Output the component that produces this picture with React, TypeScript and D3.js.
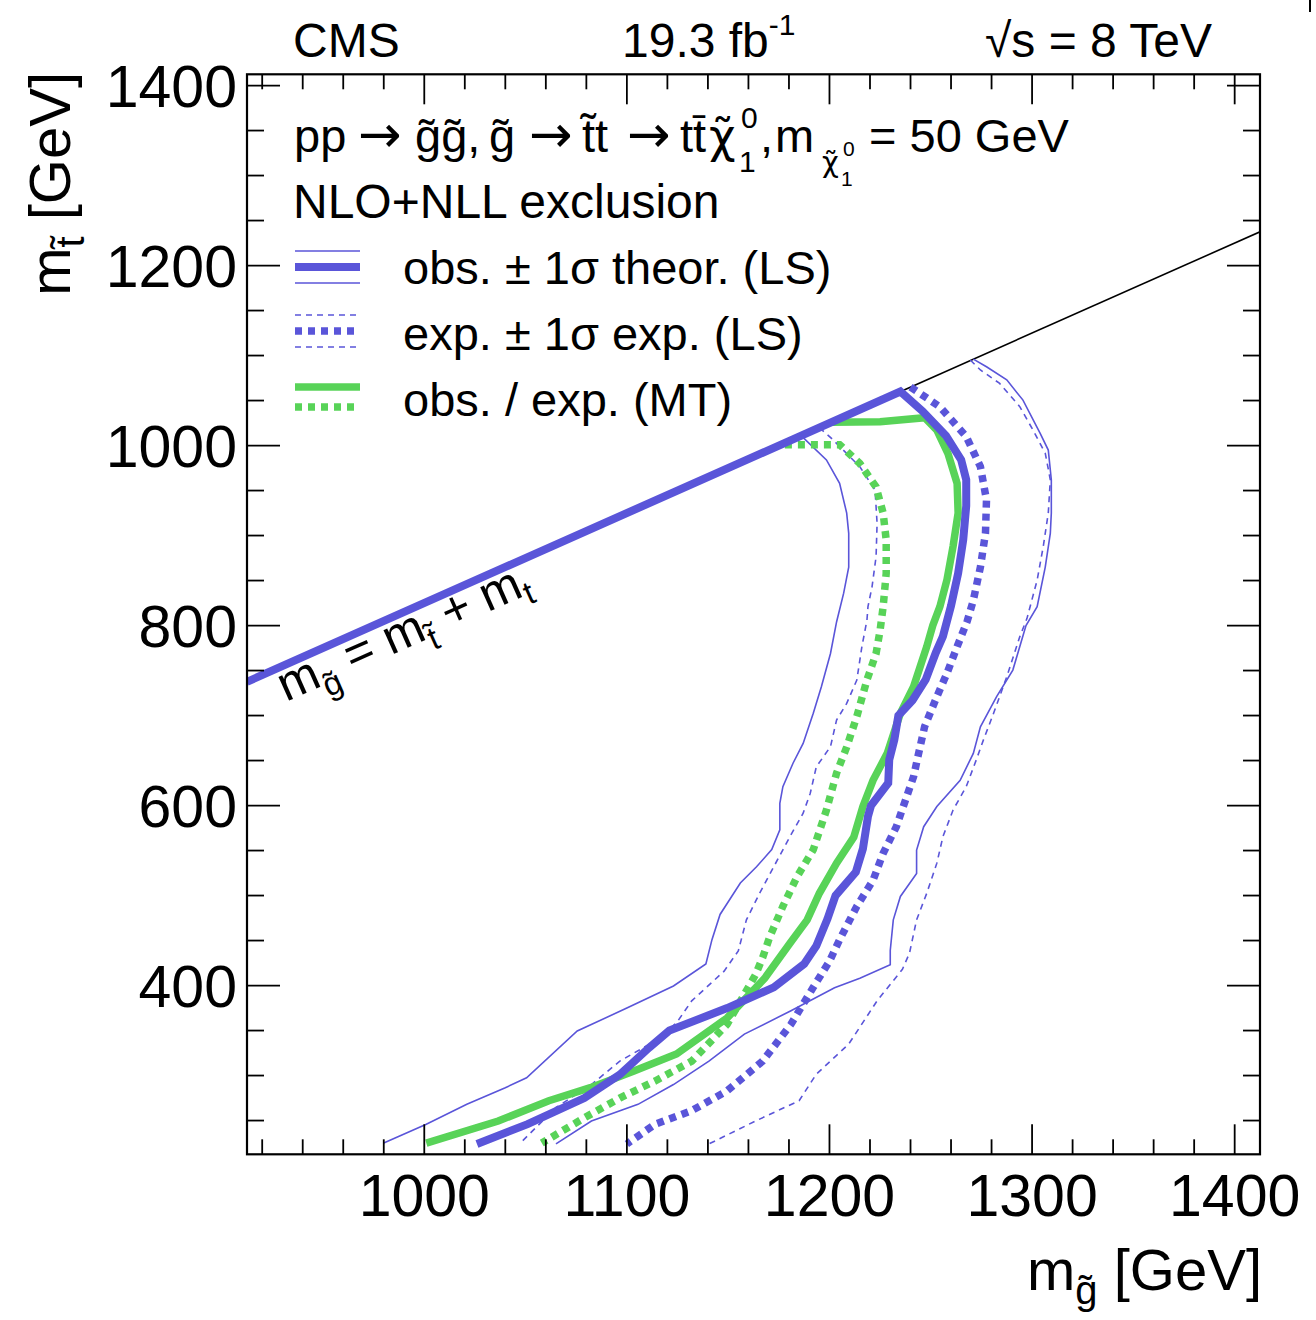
import React from "react";
import * as d3 from "d3";

type P = [number, number];

// ---------- axes ----------
const xDomain: [number, number] = [912.5, 1412.5];
const yDomain: [number, number] = [212.5, 1412.5];
const xMajorTicks = [1000, 1100, 1200, 1300, 1400];
const yMajorTicks = [400, 600, 800, 1000, 1200, 1400];
const xMinorTicks = d3.range(920, 1412, 20);
const yMinorTicks = d3.range(250, 1412, 50);
const topMass = 175;
const kinematicLineStart = 1236;

// ---------- contours (m_gluino, m_stop) ----------
const obsLS: P[] = [
  [912.5, 737.5], [1235, 1060], [1246, 1038], [1257.5, 1011], [1265, 984], [1267.5, 962],
  [1267.5, 933], [1266, 895], [1263.5, 858], [1260, 822], [1256, 788], [1252.5, 770],
  [1247.5, 740], [1241, 717], [1234, 700], [1232, 673], [1229.5, 651], [1229, 625],
  [1220.5, 600], [1219, 588], [1216.5, 552], [1213, 526], [1203, 500], [1199, 474],
  [1193.5, 444], [1187.5, 424], [1172.5, 398], [1149.5, 375], [1121, 350], [1111, 331],
  [1096.5, 301], [1079, 275], [1051, 246], [1026, 224],
];
const obsLSDown: P[] = [
  [1186, 1011], [1198.5, 984], [1205, 958], [1208.5, 925], [1209.5, 902.5], [1209.5, 865],
  [1207, 836], [1203.5, 804], [1200.5, 769], [1196, 732], [1192, 702.5], [1187, 669],
  [1182, 647], [1177, 621], [1175.5, 602.5], [1175.5, 573], [1171.5, 551], [1164, 532],
  [1156, 514], [1146, 479], [1142, 451], [1139, 424], [1123, 399.5], [1100, 375],
  [1075.5, 349.5], [1050.5, 297.5], [1040, 286.5], [1021, 268], [1001, 246], [980, 225],
];
const obsLSUp: P[] = [
  [1271, 1096], [1277.5, 1087.5], [1287.5, 1073], [1295.5, 1050.5], [1304, 1013.5], [1308, 995],
  [1309.5, 962], [1309.5, 925], [1309, 902.5], [1306.5, 865], [1302.5, 821], [1297, 800],
  [1290.5, 750.5], [1282.5, 721], [1274.5, 687.5], [1271, 658], [1264.5, 628], [1253, 599],
  [1246.5, 576.5], [1243, 550.5], [1243, 524.5], [1235, 499], [1231.5, 473], [1230, 439],
  [1230, 423], [1215, 408], [1202.5, 397.5], [1181, 372], [1158, 346], [1140.5, 316],
  [1123, 290], [1105.5, 268], [1082.5, 249.5], [1065, 224],
];
const expLS: P[] = [
  [1240, 1065], [1254.5, 1043], [1267.5, 1010], [1274.5, 976.5], [1277.5, 939.5], [1277, 902.5],
  [1274.5, 865], [1271, 828], [1268, 805], [1263, 776.5], [1258, 747], [1253, 721],
  [1247, 688], [1244, 658], [1241.5, 632], [1237.5, 606], [1233, 576.5], [1226.5, 547],
  [1221.5, 517], [1213.5, 488], [1205, 451], [1200, 427], [1192, 398], [1181, 357],
  [1167, 316], [1149.5, 283], [1132, 261], [1114, 246], [1100, 224],
];
const expLSDown: P[] = [
  [1195, 1020], [1201, 1008], [1215, 976.5], [1222.5, 950.5], [1223.5, 913.5], [1223, 876.5],
  [1221, 843], [1219, 821], [1218.5, 806], [1216, 776.5], [1213.5, 739.5], [1208.5, 713.5],
  [1203.5, 695], [1200.5, 665.5], [1193.5, 643], [1190.5, 613.5], [1187, 591.5], [1180.5, 565.5],
  [1172.5, 532], [1165.5, 502.5], [1159, 473], [1155, 438.5], [1148, 416], [1132, 383],
  [1124.5, 358.5], [1114, 338.5], [1096.5, 316], [1082.5, 290], [1065, 264.5], [1047, 224],
];
const expLSUp: P[] = [
  [1269.5, 1095], [1274.5, 1084], [1284, 1069], [1294, 1043], [1300.5, 1017], [1306.5, 991.5],
  [1309, 962], [1308, 925], [1305.5, 887.5], [1302.5, 850.5], [1297.5, 808], [1294, 788],
  [1287.5, 743], [1281, 702.5], [1276, 673], [1272.5, 651], [1267.5, 621], [1261, 595],
  [1256, 565.5], [1253, 536], [1248, 502.5], [1243, 473], [1239.5, 436], [1236, 418],
  [1223.5, 383], [1209.5, 335], [1193.5, 301.5], [1185, 272], [1163.5, 249.5], [1140.5, 224],
];
const obsMT: P[] = [
  [1201, 1026], [1225, 1026.5], [1247, 1031], [1253, 1017], [1258.5, 991], [1263, 958],
  [1263.5, 925], [1261, 888], [1258, 851], [1254.5, 821], [1251, 800], [1248, 776.5],
  [1241.5, 732], [1235, 702.5], [1228.5, 658], [1221.5, 628], [1216.5, 599], [1212, 565],
  [1203.5, 536], [1195, 502.5], [1189, 473], [1180.5, 447], [1168, 408], [1149.5, 364],
  [1124.5, 324], [1103.5, 305], [1082, 286.5], [1061.5, 272], [1036.5, 249.5], [1001, 225],
];
const expMT: P[] = [
  [1178, 1001], [1205, 1001], [1215, 980], [1223, 954], [1226.5, 925], [1228, 895],
  [1228, 858], [1226.5, 821], [1225, 795], [1223, 769], [1218.5, 739.5], [1213.5, 699],
  [1208.5, 665], [1203.5, 636], [1198.5, 595], [1192, 551], [1184, 521], [1177, 488],
  [1170.5, 454], [1167, 431], [1163.5, 412], [1149.5, 357], [1132, 316], [1114, 294],
  [1096.5, 275], [1079, 253], [1058, 225],
];

const BLUE = "#5a55d9";
const GREEN = "#58d358";
const FONT = "'Liberation Sans', Arial, Helvetica, sans-serif";
const SYM = "'DejaVu Sans', sans-serif";

const L = 247, R = 1260, T = 74.3, B = 1154.3;

export default function App() {
  const x = d3.scaleLinear().domain(xDomain).range([L, R]);
  const y = d3.scaleLinear().domain(yDomain).range([B, T]);
  const line = d3.line<P>().x((d) => x(d[0])).y((d) => y(d[1]));
  const diag: P[] = [[kinematicLineStart, kinematicLineStart - topMass], [xDomain[1], xDomain[1] - topMass]];
  const ang = (Math.atan2(y(1300 - topMass) - y(1000 - topMass), x(1300) - x(1000)) * 180) / Math.PI;

  const lx0 = 295, lx1 = 360;
  const hy = 152;
  return (
    <svg width={1316} height={1320} style={{ position: "absolute", left: 0, top: 0, background: "#fff" }} fontFamily={FONT}>
      <rect x={0} y={0} width={1316} height={1320} fill="#fff" />
      <defs>
        <clipPath id="frame"><rect x={L} y={T} width={R - L} height={B - T} /></clipPath>
      </defs>
      <line x1={1310} x2={1310} y1={0} y2={12} stroke="#000" strokeWidth={2} />

      {/* top labels */}
      <text x={293} y={57} fontSize={48}>CMS</text>
      <text x={622} y={57} fontSize={48}>19.3 fb<tspan fontSize={30} dy={-22}>-1</tspan></text>
      <text x={985} y={57} fontSize={48}>√s = 8 TeV</text>

      {/* contours */}
      <g clipPath="url(#frame)" fill="none" strokeLinejoin="miter">
        <path d={line(diag)!} stroke="#000" strokeWidth={1.6} />
        <path d={line(obsLSDown)!} stroke={BLUE} strokeWidth={1.6} />
        <path d={line(obsLSUp)!} stroke={BLUE} strokeWidth={1.6} />
        <path d={line(expLSDown)!} stroke={BLUE} strokeWidth={1.6} strokeDasharray="6,5" />
        <path d={line(expLSUp)!} stroke={BLUE} strokeWidth={1.6} strokeDasharray="6,5" />
        <path d={line(expLS)!} stroke={BLUE} strokeWidth={7.5} strokeDasharray="7,6" />
        <path d={line(expMT)!} stroke={GREEN} strokeWidth={7.5} strokeDasharray="7,6" />
        <path d={line(obsMT)!} stroke={GREEN} strokeWidth={7.5} />
        <path d={line(obsLS)!} stroke={BLUE} strokeWidth={8} />
      </g>

      {/* diagonal label */}
      <g transform={`translate(286,702) rotate(${ang})`}>
        <text fontSize={49}>
          m<tspan fontSize={33} dy={13}>g&#x303;</tspan>
          <tspan fontSize={49} dy={-13}> = m</tspan>
          <tspan fontSize={33} dy={13}>t&#x303;</tspan>
          <tspan fontSize={49} dy={-13}> + m</tspan>
          <tspan fontSize={33} dy={10}>t</tspan>
        </text>
      </g>

      {/* header text */}
      <text fontSize={47}>
        <tspan x={294} y={hy}>pp</tspan>
        <tspan x={358} y={hy} fontFamily={SYM} fontSize={52}>→</tspan>
        <tspan x={415} y={hy}>g&#x303;g&#x303;,</tspan>
        <tspan x={489} y={hy}>g&#x303;</tspan>
        <tspan x={529} y={hy} fontFamily={SYM} fontSize={52}>→</tspan>
        <tspan x={582} y={hy}>t&#x303;t</tspan>
        <tspan x={627} y={hy} fontFamily={SYM} fontSize={52}>→</tspan>
        <tspan x={680} y={hy}>tt&#x304;</tspan>
        <tspan x={709} y={hy} fontFamily={SYM} fontSize={46}>χ&#x303;</tspan>
        <tspan x={741} y={hy - 24} fontSize={30}>0</tspan>
        <tspan x={739} y={hy + 20} fontSize={30}>1</tspan>
        <tspan x={760} y={hy}>,</tspan>
        <tspan x={775} y={hy}>m</tspan>
        <tspan x={822} y={hy + 20} fontFamily={SYM} fontSize={29}>χ&#x303;</tspan>
        <tspan x={843} y={hy + 4} fontSize={21}>0</tspan>
        <tspan x={841} y={hy + 34} fontSize={21}>1</tspan>
        <tspan x={869} y={hy}>= 50 GeV</tspan>
      </text>
      <text x={293} y={218} fontSize={48}>NLO+NLL exclusion</text>

      {/* legend */}
      <g>
        <line x1={lx0} x2={lx1} y1={251} y2={251} stroke={BLUE} strokeWidth={1.6} />
        <line x1={lx0} x2={lx1} y1={267} y2={267} stroke={BLUE} strokeWidth={8} />
        <line x1={lx0} x2={lx1} y1={283} y2={283} stroke={BLUE} strokeWidth={1.6} />
        <line x1={lx0} x2={lx1} y1={315} y2={315} stroke={BLUE} strokeWidth={1.6} strokeDasharray="6,5" />
        <line x1={lx0} x2={lx1} y1={331} y2={331} stroke={BLUE} strokeWidth={7.5} strokeDasharray="7,6" />
        <line x1={lx0} x2={lx1} y1={347} y2={347} stroke={BLUE} strokeWidth={1.6} strokeDasharray="6,5" />
        <line x1={lx0} x2={lx1} y1={387} y2={387} stroke={GREEN} strokeWidth={7.5} />
        <line x1={lx0} x2={lx1} y1={407} y2={407} stroke={GREEN} strokeWidth={7.5} strokeDasharray="7,6" />
        <text x={403} y={284} fontSize={47}>obs. ± 1σ theor. (LS)</text>
        <text x={403} y={350} fontSize={47}>exp. ± 1σ exp. (LS)</text>
        <text x={403} y={416} fontSize={47}>obs. / exp. (MT)</text>
      </g>

      {/* frame + ticks */}
      <rect x={L} y={T} width={R - L} height={B - T} fill="none" stroke="#000" strokeWidth={2.2} />
      <g stroke="#000" strokeWidth={1.8}>
        {xMinorTicks.map((v) => {
          const len = xMajorTicks.includes(v) ? 30 : 15;
          return (
            <g key={"x" + v}>
              <line x1={x(v)} x2={x(v)} y1={B} y2={B - len} />
              <line x1={x(v)} x2={x(v)} y1={T} y2={T + len} />
            </g>
          );
        })}
        {yMinorTicks.map((v) => {
          const len = yMajorTicks.includes(v) ? 33 : 17;
          return (
            <g key={"y" + v}>
              <line x1={L} x2={L + len} y1={y(v)} y2={y(v)} />
              <line x1={R} x2={R - len} y1={y(v)} y2={y(v)} />
            </g>
          );
        })}
      </g>
      {xMajorTicks.map((v) => (
        <text key={"xl" + v} x={x(v)} y={1216} fontSize={59} textAnchor="middle">{v}</text>
      ))}
      {yMajorTicks.map((v) => (
        <text key={"yl" + v} x={237} y={y(v) + 21} fontSize={59} textAnchor="end">{v}</text>
      ))}

      {/* axis titles */}
      <text x={1262} y={1290} fontSize={58} textAnchor="end">
        m<tspan fontSize={40} dy={14}>g&#x303;</tspan><tspan fontSize={58} dy={-14}> [GeV]</tspan>
      </text>
      <g transform="translate(70,72) rotate(-90)">
        <text x={0} y={0} fontSize={58} textAnchor="end">
          m<tspan fontSize={40} dy={14}>t&#x303;</tspan><tspan fontSize={58} dy={-14}> [GeV]</tspan>
        </text>
      </g>
    </svg>
  );
}
